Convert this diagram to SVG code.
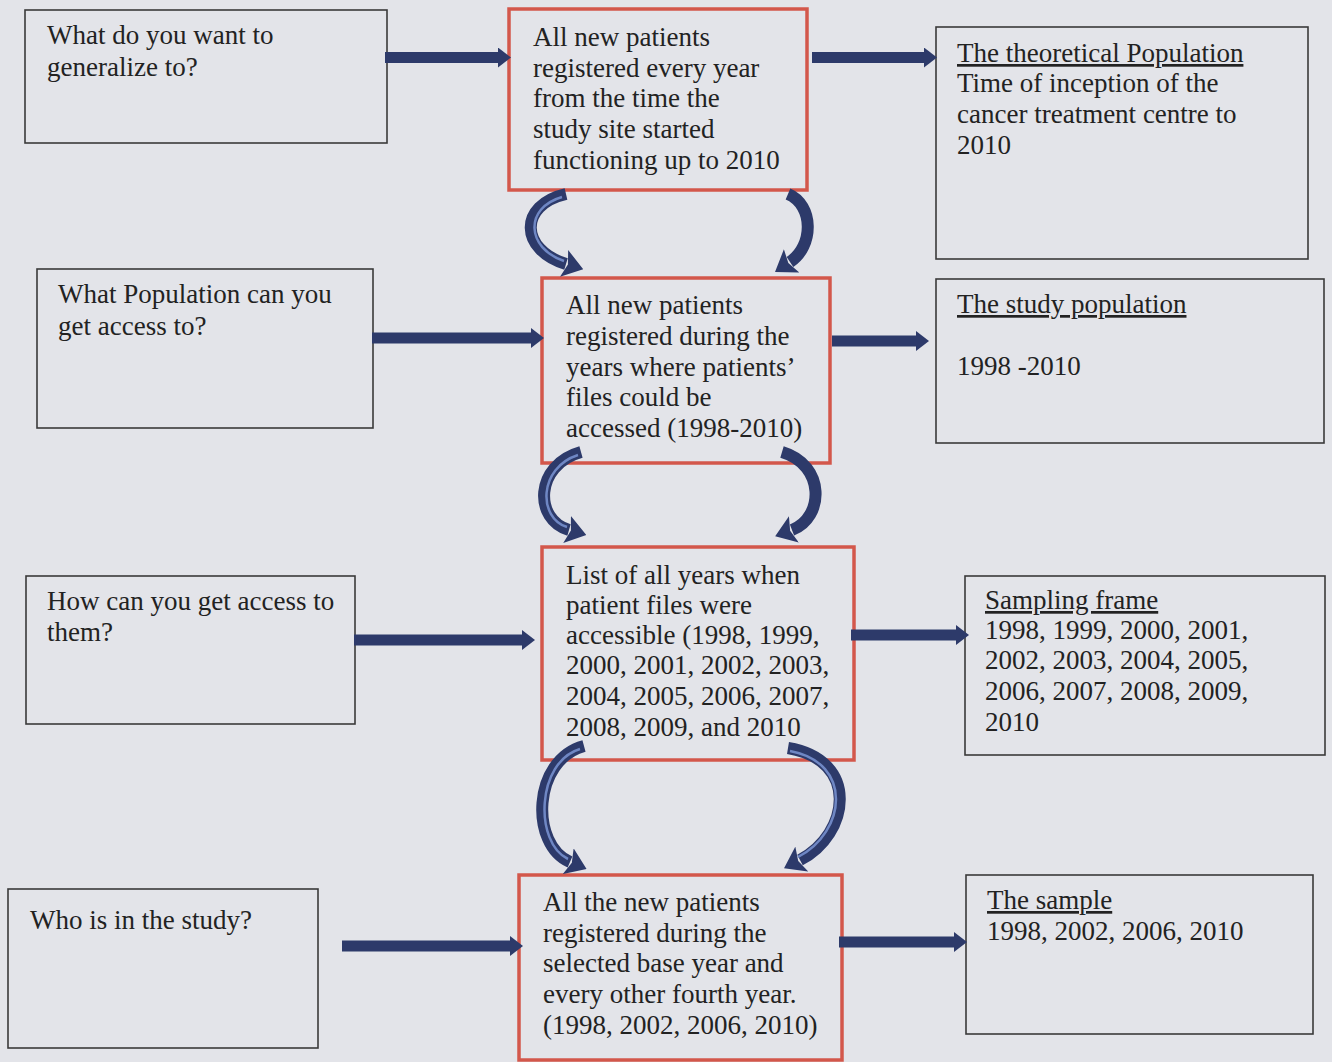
<svg xmlns="http://www.w3.org/2000/svg" width="1332" height="1062" viewBox="0 0 1332 1062">
<style>
.bg{fill:#e3e4e9}
.q{fill:none;stroke:#3a3a3a;stroke-width:1.6}
.m{fill:none;stroke:#d3574b;stroke-width:3.5}
.r{fill:none;stroke:#3a3a3a;stroke-width:1.6}
text{font-family:"Liberation Serif","Times New Roman",serif;font-size:27px;fill:#222}
.u{text-decoration:underline}
.h{stroke:#2d3a6a;stroke-width:11;fill:none}
.c{stroke:#2d3a6a;stroke-width:12;fill:none;stroke-linecap:butt}
.ch{stroke:#6f87c4;stroke-width:2.5;fill:none}
</style>
<defs>
<marker id="ah" markerUnits="userSpaceOnUse" markerWidth="13" markerHeight="20" refX="0" refY="10" orient="auto">
<path d="M0,0 L13,10 L0,20 z" fill="#2d3a6a"/>
</marker>
<marker id="ac" markerUnits="userSpaceOnUse" markerWidth="20" markerHeight="28" refX="2" refY="14" orient="auto">
<path d="M0,0 L20,14 L0,28 L4,14 z" fill="#2d3a6a"/>
</marker>
</defs>
<rect class="bg" x="0" y="0" width="1332" height="1062"/>

<g id="q1"><rect class="q" x="25" y="10" width="362" height="133"/>
<text x="47" y="44">What do you want to</text><text x="47" y="76">generalize to?</text></g>
<g id="q2"><rect class="q" x="37" y="269" width="336" height="159"/>
<text x="58" y="303">What Population can you</text><text x="58" y="335">get access to?</text></g>
<g id="q3"><rect class="q" x="26" y="576" width="329" height="148"/>
<text x="47" y="610">How can you get access to</text><text x="47" y="641">them?</text></g>
<g id="q4"><rect class="q" x="8" y="889" width="310" height="159"/>
<text x="30" y="929">Who is in the study?</text></g>

<g id="m1"><rect class="m" x="509" y="9" width="298" height="181"/>
<text x="533" y="46">All new patients</text><text x="533" y="77">registered every year</text><text x="533" y="107">from the time the</text><text x="533" y="138">study site started</text><text x="533" y="169">functioning up to 2010</text></g>
<g id="m2"><rect class="m" x="542" y="278" width="288" height="185"/>
<text x="566" y="314">All new patients</text><text x="566" y="345">registered during the</text><text x="566" y="376">years where patients’</text><text x="566" y="406">files could be</text><text x="566" y="437">accessed (1998-2010)</text></g>
<g id="m3"><rect class="m" x="542" y="547" width="312" height="213"/>
<text x="566" y="584">List of all years when</text><text x="566" y="614">patient files were</text><text x="566" y="644">accessible (1998, 1999,</text><text x="566" y="674">2000, 2001, 2002, 2003,</text><text x="566" y="705">2004, 2005, 2006, 2007,</text><text x="566" y="736">2008, 2009, and 2010</text></g>
<g id="m4"><rect class="m" x="519" y="875" width="323" height="185"/>
<text x="543" y="911">All the new patients</text><text x="543" y="942">registered during the</text><text x="543" y="972">selected base year and</text><text x="543" y="1003">every other fourth year.</text><text x="543" y="1034">(1998, 2002, 2006, 2010)</text></g>

<g id="r1"><rect class="r" x="936" y="27" width="372" height="232"/>
<text class="u" x="957" y="62">The theoretical Population</text><text x="957" y="92">Time of inception of the</text><text x="957" y="123">cancer treatment centre to</text><text x="957" y="154">2010</text></g>
<g id="r2"><rect class="r" x="936" y="279" width="388" height="164"/>
<text class="u" x="957" y="313">The study population</text><text x="957" y="375">1998 -2010</text></g>
<g id="r3"><rect class="r" x="965" y="576" width="360" height="179"/>
<text class="u" x="985" y="609">Sampling frame</text><text x="985" y="639">1998, 1999, 2000, 2001,</text><text x="985" y="669">2002, 2003, 2004, 2005,</text><text x="985" y="700">2006, 2007, 2008, 2009,</text><text x="985" y="731">2010</text></g>
<g id="r4"><rect class="r" x="966" y="875" width="347" height="159"/>
<text class="u" x="987" y="909">The sample</text><text x="987" y="940">1998, 2002, 2006, 2010</text></g>

<g id="connectors">
<line class="h" x1="385" y1="57.5" x2="498" y2="57.5" marker-end="url(#ah)"/>
<line class="h" x1="812" y1="57.5" x2="924" y2="57.5" marker-end="url(#ah)"/>
<line class="h" x1="372" y1="338" x2="531" y2="338" marker-end="url(#ah)"/>
<line class="h" x1="832" y1="341" x2="916" y2="341" marker-end="url(#ah)"/>
<line class="h" x1="354" y1="640" x2="522" y2="640" marker-end="url(#ah)"/>
<line class="h" x1="851" y1="635" x2="956" y2="635" marker-end="url(#ah)"/>
<line class="h" x1="342" y1="946" x2="510" y2="946" marker-end="url(#ah)"/>
<line class="h" x1="839" y1="942" x2="954" y2="942" marker-end="url(#ah)"/>

<path class="c" d="M566,194 C518,205 520,250 566,264" marker-end="url(#ac)"/>
<path class="c" d="M788,194 C814,205 814,246 790,262" marker-end="url(#ac)"/>
<path class="c" d="M581,452 C534,465 534,520 569,530" marker-end="url(#ac)"/>
<path class="c" d="M782,452 C826,465 824,518 792,530" marker-end="url(#ac)"/>
<path class="c" d="M584,746 C532,760 530,845 570,862" marker-end="url(#ac)"/>
<path class="c" d="M788,748 C860,760 850,834 800,860" marker-end="url(#ac)"/>
<path class="ch" d="M562,197 C524,208 526,248 564,261"/>
<path class="ch" d="M578,455 C538,468 538,518 567,527"/>
<path class="ch" d="M580,749 C536,762 534,843 568,859"/>
<path class="ch" d="M790,751 C854,763 846,832 798,857"/>
</g>
</svg>
